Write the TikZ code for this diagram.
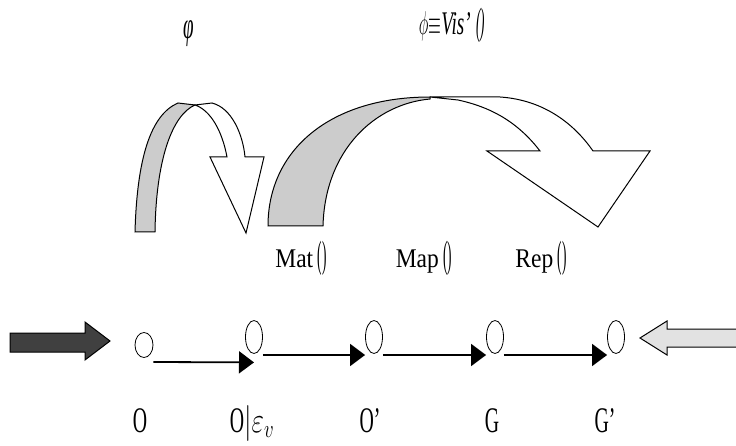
\RequirePackage{fix-cm}
\documentclass[tikz,border=0pt]{standalone}
\usepackage{fontspec}
\usepackage{graphicx}
\setmainfont{Liberation Serif}
\usetikzlibrary{arrows.meta,shapes.geometric}
\definecolor{bandgray}{HTML}{CCCCCC}
\definecolor{darkblock}{HTML}{404040}
\definecolor{lightblock}{HTML}{E2E2E2}
\newcommand{\sqz}[2]{\scalebox{#1}[1]{#2}}
\newcommand{\parpair}{{\fontsize{38}{38}\selectfont\sqz{0.35}{()}}}
\begin{document}
\begin{tikzpicture}[x=1pt,y=-1pt,
  bead/.style={draw, ellipse, line width=0.8pt, inner sep=0pt, minimum width=17pt, minimum height=33pt},
  flow/.style={line width=1.8pt, -{Triangle[length=15pt,width=22pt]}},
  blockline/.style={draw=black, line width=1pt, line join=miter},
  botlab/.style={font=\fontsize{36}{36}\selectfont, inner sep=0pt, anchor=base},
  toplab/.style={font=\fontsize{27}{27}\selectfont, inner sep=0pt, anchor=base},
  greek/.style={font=\fontsize{34}{34}\selectfont, inner sep=0pt}]
\useasboundingbox (0,0) rectangle (736,446);

% curved block arrows
\filldraw[blockline, fill=bandgray] (135,232) .. controls (137,160) and (150,115) .. (178,103) -- (195,105) .. controls (172,115) and (156,160) .. (155,232) -- cycle;
\filldraw[blockline, fill=white] (195,105) -- (212,103) .. controls (232,108) and (243,135) .. (245,157) -- (264,157) -- (246,233) -- (210,157) -- (227,157) .. controls (222,130) and (210,110) .. (195,105) -- cycle;

\filldraw[blockline, fill=bandgray] (268,226) .. controls (268,150) and (330,97) .. (430,97) -- (430,99) .. controls (375,104) and (325,150) .. (323,226) -- cycle;
\filldraw[blockline, fill=white] (430,97) -- (500,97) .. controls (545,100) and (575,125) .. (593,151) -- (650,151) -- (598,227) -- (487,151) -- (540,151) .. controls (520,125) and (495,108) .. (458,100) -- cycle;

% side block arrows
\filldraw[blockline, fill=darkblock] (10,333) -- (85,333) -- (85,322) -- (110,341) -- (85,360) -- (85,352) -- (10,352) -- cycle;
\filldraw[blockline, fill=lightblock] (640,338) -- (667,321) -- (667,329) -- (740,329) -- (740,347) -- (667,347) -- (667,355) -- cycle;

% beads
\node[bead, minimum width=18pt, minimum height=25pt] (n1) at (144,345) {};
\node[bead] (n2) at (254,337) {};
\node[bead] (n3) at (374,337) {};
\node[bead] (n4) at (495,337) {};
\node[bead] (n5) at (616,337) {};

% connectors
\draw[flow] ([yshift=-17pt]n1.east) -- ([yshift=-8.5pt]n2.south);
\draw[flow] ([yshift=-18pt]n2.east) -- ([yshift=-18pt]n3.west);
\draw[flow] ([yshift=-18pt]n3.east) -- ([yshift=-18pt]n4.west);
\draw[flow] ([yshift=-18pt]n4.east) -- ([yshift=-18pt]n5.west);

% labels
\node[toplab] (l1) at (301,268) {\sqz{0.87}{Mat}\,\parpair};
\node[toplab] (l2) at (424,268) {\sqz{0.87}{Map}\,\parpair};
\node[toplab] (l3) at (541,268) {\sqz{0.87}{Rep}\,\parpair};

\node[botlab] (b1) at (140,432) {\sqz{0.55}{O}};
\node[botlab] (b2) at (252,432) {\sqz{0.55}{O}\sqz{0.75}{$|\varepsilon_v$}};
\node[botlab] (b3) at (370,432) {\sqz{0.55}{O’}};
\node[botlab] (b4) at (492,432) {\sqz{0.55}{G}};
\node[botlab] (b5) at (605,432) {\sqz{0.55}{G’}};

\node[greek, font=\fontsize{38}{38}\selectfont] (g1) at (189,33.5) {\sqz{0.5}{\textit{φ}}};
\node[greek, anchor=base, font=\fontsize{33}{33}\selectfont] (g2) at (452,35) {\sqz{0.5}{${\phi}{\equiv}$}\sqz{0.58}{\textit{Vis’}}\,{\fontsize{38}{38}\selectfont\sqz{0.35}{\textit{()}}}};
\end{tikzpicture}
\end{document}
